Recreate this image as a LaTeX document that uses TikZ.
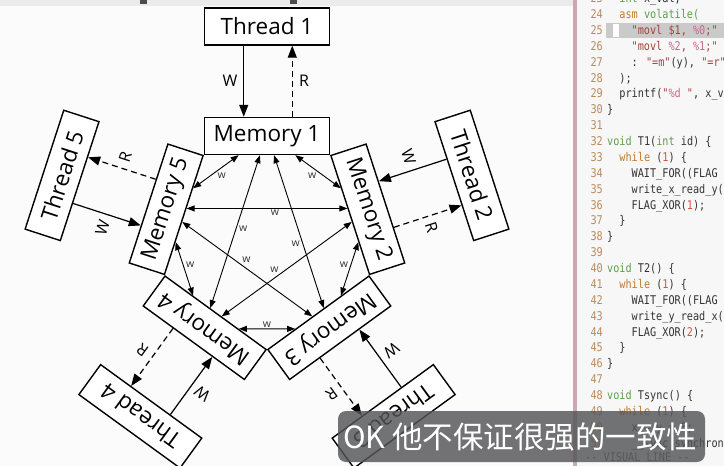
\documentclass[tikz,border=0pt]{standalone}
\usepackage{fontspec}
\newfontfamily\diag{Open Sans}
\newfontfamily\cjk{Noto Sans CJK SC}
\newfontfamily\code[FakeStretch=0.85]{DejaVu Sans Mono}
\usetikzlibrary{arrows.meta,calc}
\definecolor{lnum}{HTML}{B88A5E}
\definecolor{kwc}{HTML}{C27A2C}
\definecolor{tyc}{HTML}{5E9E4E}
\definecolor{stc}{HTML}{A3423A}
\definecolor{nmc}{HTML}{D4553A}
\definecolor{fmc}{HTML}{C76A8A}
\definecolor{txc}{HTML}{333333}
\definecolor{slidebg}{HTML}{FBFBFB}
\definecolor{codebg}{HTML}{F7F7F7}
\definecolor{hl}{HTML}{CACACA}
\definecolor{gutter}{HTML}{C9A9AF}
\definecolor{subbg}{HTML}{545557}
\newcommand\mycl[3]{%
  \node[lnumsty] (ln#1) at (603,{-(18.5+(#1-24)*15.88)}) {#1};
  \node[codesty] (cd#1) at ({607+#2*6.12},{-(18.5+(#1-24)*15.88)}) {#3};}
\begin{document}
\begin{tikzpicture}[x=1pt,y=1pt,
  box/.style={draw, line width=1.4pt, minimum width=125pt, minimum height=37pt,
    inner sep=0pt, fill=white, font=\diag\fontsize{22.5}{25}\selectfont},
  warrow/.style={-{Triangle[length=12pt,width=9pt]}, line width=1.2pt},
  rarrow/.style={warrow, dash pattern=on 6pt off 4pt},
  innerarrow/.style={{Triangle[length=8pt,width=6pt]}-{Triangle[length=8pt,width=6pt]}, line width=0.9pt},
  lab/.style={font=\diag\fontsize{16}{18}\selectfont, inner sep=0pt},
  wl/.style={font=\diag\fontsize{10.5}{12}\selectfont, inner sep=1.2pt, text=black!80},
  lnumsty/.style={anchor=base east, inner sep=0pt, text=lnum, font=\code\fontsize{12}{14}\selectfont},
  codesty/.style={anchor=base west, inner sep=0pt, text=txc, font=\code\fontsize{12}{14}\selectfont},
]
\useasboundingbox (0,0) rectangle (724,-466);
\fill[slidebg] (0,0) rectangle (573,-466);
\fill[codebg] (573,0) rectangle (724,-466);
\fill[black!8] (0,0) rectangle (573,-6);
\fill[black!70] (140,0) rectangle (147,-4);
\fill[black!70] (290,0) rectangle (297,-4);
\fill[gutter] (573,0) rectangle (577,-466);
% diagram
\foreach \k in {1,...,5}{
  \begin{scope}[shift={(267,-242)}, rotate={-72*(\k-1)}, transform shape]
    \node[box] (M\k) at (0,106) {Memory \k};
    \node[box] (T\k) at (0,215.5) {Thread \k};
    \node[lab] (W\k) at (-37,161) {W};
    \node[lab] (R\k) at (37,161) {R};
  \end{scope}
}
\foreach \k in {1,...,5}{
  \draw[warrow] ($(T\k.south)!0.368!(T\k.south west)$) -- ($(M\k.north)!0.368!(M\k.north west)$);
  \draw[rarrow] ($(M\k.north)!0.4!(M\k.north east)$) -- ($(T\k.south)!0.4!(T\k.south east)$);
  \pgfmathtruncatemacro\n{mod(\k,5)+1}
  \pgfmathtruncatemacro\m{mod(\k+1,5)+1}
  \draw[innerarrow] ($(M\k.south)!0.448!(M\k.south east)$) -- node[wl, auto, swap] {w} ($(M\n.south)!0.448!(M\n.south west)$);
  \draw[innerarrow] ($(M\k.south)!0.112!(M\k.south east)$) -- node[wl, auto, swap, pos=0.55] {w} ($(M\m.south)!0.112!(M\m.south west)$);
}
% code panel
\fill[hl] (606,-22.5) rectangle (724,-37.5);
\fill[white] (613,-23.5) rectangle (619,-36.5);
\mycl{23}{2}{{\color{tyc}int} x\_val;}
\mycl{24}{2}{{\color{kwc}asm} {\color{tyc}volatile(}}
\mycl{25}{4}{{\color{stc}"movl \$1, {\color{fmc}\%0};"}}
\mycl{26}{4}{{\color{stc}"movl {\color{fmc}\%2}, {\color{fmc}\%1};"}}
\mycl{27}{4}{: {\color{stc}"=m"}(y), {\color{stc}"=r"}(x)}
\mycl{28}{2}{);}
\mycl{29}{2}{printf({\color{stc}"{\color{fmc}\%d} "}, x\_val);}
\mycl{30}{0}{\}}
\mycl{31}{0}{}
\mycl{32}{0}{{\color{tyc}void} T1({\color{tyc}int} id) \{}
\mycl{33}{2}{{\color{kwc}while} ({\color{nmc}1}) \{}
\mycl{34}{4}{WAIT\_FOR((FLAG}
\mycl{35}{4}{write\_x\_read\_y(}
\mycl{36}{4}{FLAG\_XOR({\color{nmc}1});}
\mycl{37}{2}{\}}
\mycl{38}{0}{\}}
\mycl{39}{0}{}
\mycl{40}{0}{{\color{tyc}void} T2() \{}
\mycl{41}{2}{{\color{kwc}while} ({\color{nmc}1}) \{}
\mycl{42}{4}{WAIT\_FOR((FLAG}
\mycl{43}{4}{write\_y\_read\_x(}
\mycl{44}{4}{FLAG\_XOR({\color{nmc}2});}
\mycl{45}{2}{\}}
\mycl{46}{0}{\}}
\mycl{47}{0}{}
\mycl{48}{0}{{\color{tyc}void} Tsync() \{}
\mycl{49}{2}{{\color{kwc}while} ({\color{nmc}1}) \{}
\mycl{50}{4}{x = y = 0;}
\mycl{51}{4}{\_\_sync\_synchronize();}
\node[codesty, text=black!60] (status) at (585,-461.5) {-{}- VISUAL LINE -{}-};
% subtitle
\fill[subbg, opacity=0.82, rounded corners=8pt] (338,-411) rectangle (705,-462);
\node[anchor=west, inner sep=0pt, text=white, font=\cjk\fontsize{30.5}{32}\selectfont] (sub) at (343,-437) {OK 他不保证很强的一致性};
\end{tikzpicture}
\end{document}
